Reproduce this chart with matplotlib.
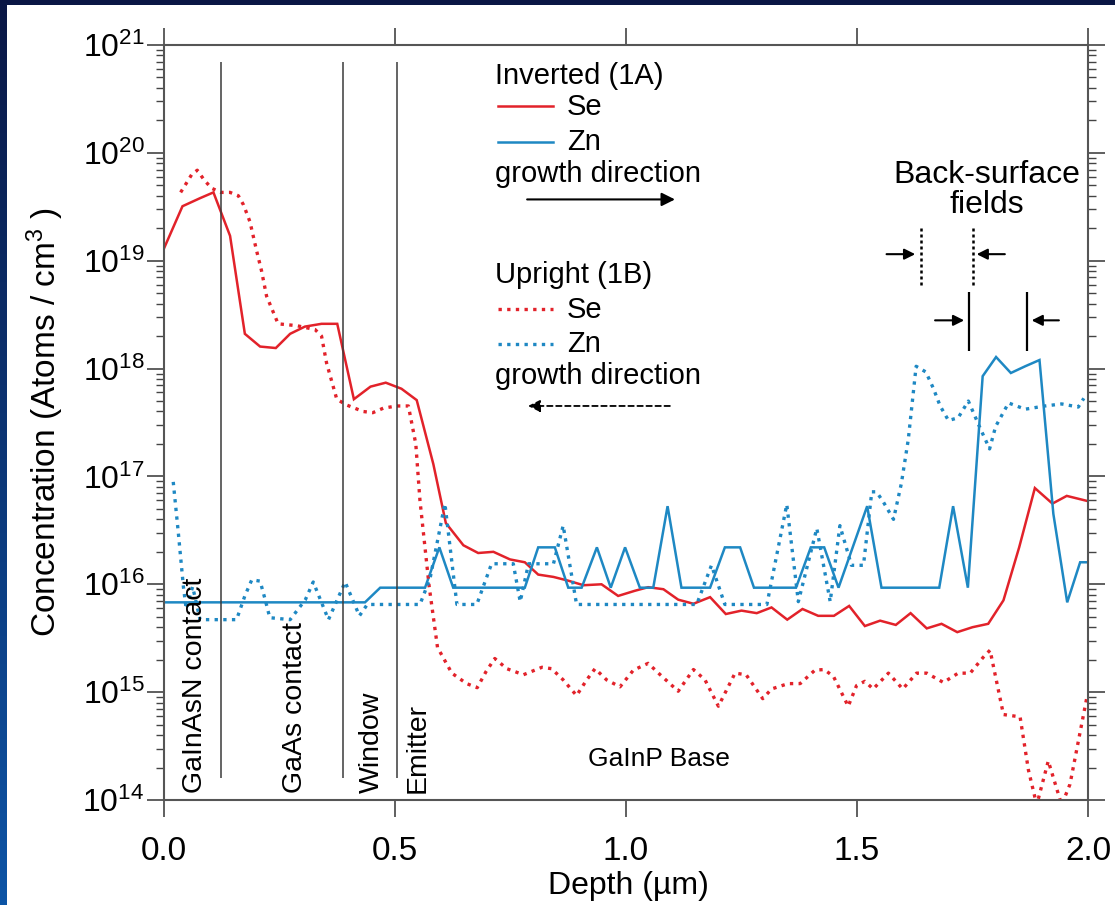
import numpy as np
import matplotlib
matplotlib.use("Agg")
import matplotlib.pyplot as plt
from matplotlib.patches import Rectangle
from matplotlib.ticker import NullFormatter, FixedLocator, LogFormatterMathtext

plt.rcParams['font.family'] = ['Liberation Sans', 'DejaVu Sans']
plt.rcParams['mathtext.fontset'] = 'custom'
plt.rcParams['mathtext.rm'] = 'Liberation Sans'
plt.rcParams['mathtext.it'] = 'Liberation Sans:italic'
plt.rcParams['mathtext.bf'] = 'Liberation Sans:bold'

# ---------------- data ----------------
inv_se_x = [0.0, 0.04, 0.078, 0.107, 0.143, 0.175, 0.208, 0.242, 0.273, 0.305, 0.341, 0.375,
            0.411, 0.447, 0.48, 0.514, 0.547, 0.583, 0.610, 0.648, 0.680, 0.713, 0.749, 0.781,
            0.810, 0.843, 0.875, 0.908, 0.947, 0.983, 1.019, 1.048, 1.081, 1.113, 1.146, 1.182,
            1.216, 1.250, 1.283, 1.315, 1.349, 1.382, 1.416, 1.450, 1.483, 1.517, 1.550, 1.584,
            1.616, 1.651, 1.683, 1.717, 1.750, 1.784, 1.817, 1.851, 1.885, 1.923, 1.954, 2.0]
inv_se_y = [1.3e19, 3.2e19, 3.8e19, 4.3e19, 1.7e19, 2.1e18, 1.6e18, 1.55e18, 2.1e18, 2.45e18, 2.6e18, 2.6e18,
            5.2e17, 6.8e17, 7.4e17, 6.5e17, 5.1e17, 1.3e17, 3.7e16, 2.3e16, 1.95e16, 2.0e16, 1.7e16, 1.6e16,
            1.23e16, 1.17e16, 1.08e16, 9.8e15, 1.0e16, 7.8e15, 8.7e15, 9.4e15, 9.0e15, 7.2e15, 6.6e15, 7.6e15,
            5.3e15, 5.7e15, 5.4e15, 6.1e15, 4.7e15, 5.9e15, 5.1e15, 5.1e15, 6.3e15, 4.1e15, 4.6e15, 4.2e15,
            5.4e15, 3.9e15, 4.3e15, 3.6e15, 4.0e15, 4.3e15, 7.1e15, 2.2e16, 7.8e16, 5.6e16, 6.6e16, 5.9e16]

inv_zn_x = [0.0, 0.435, 0.468, 0.565, 0.596, 0.626, 0.781, 0.810, 0.846, 0.875, 0.904, 0.937,
            0.967, 0.998, 1.030, 1.059, 1.090, 1.120, 1.182, 1.214, 1.247, 1.277, 1.368, 1.400,
            1.429, 1.460, 1.522, 1.553, 1.678, 1.708, 1.740, 1.772, 1.801, 1.833, 1.864, 1.895,
            1.925, 1.955, 1.983, 2.0]
inv_zn_y = [6.8e15, 6.8e15, 9.3e15, 9.3e15, 2.2e16, 9.3e15, 9.3e15, 2.2e16, 2.2e16, 9.3e15, 9.3e15, 2.2e16,
            9.3e15, 2.2e16, 9.3e15, 9.3e15, 5.3e16, 9.3e15, 9.3e15, 2.2e16, 2.2e16, 9.3e15, 9.3e15, 2.2e16,
            2.2e16, 9.3e15, 5.3e16, 9.3e15, 9.3e15, 5.3e16, 9.3e15, 8.5e17, 1.28e18, 9.1e17, 1.05e18, 1.2e18,
            4.5e16, 6.8e15, 1.6e16, 1.6e16]

up_se_x = [0.036, 0.048, 0.060, 0.072, 0.087, 0.103, 0.123, 0.143, 0.161, 0.172, 0.186, 0.200,
           0.211, 0.222, 0.247, 0.287, 0.327, 0.341, 0.352, 0.374, 0.395, 0.431, 0.452, 0.475,
           0.504, 0.529, 0.545, 0.554, 0.574, 0.592, 0.623, 0.655, 0.678, 0.697, 0.716, 0.742,
           0.778, 0.818, 0.839, 0.864, 0.893, 0.915, 0.933, 0.958, 0.987, 1.016, 1.048, 1.074,
           1.113, 1.146, 1.171, 1.200, 1.236, 1.260, 1.296, 1.315, 1.351, 1.377, 1.409, 1.429,
           1.449, 1.481, 1.499, 1.517, 1.535, 1.568, 1.599, 1.629, 1.651, 1.687, 1.719, 1.745,
           1.773, 1.788, 1.817, 1.853, 1.871, 1.889, 1.914, 1.943, 1.961, 1.997]
up_se_y = [4.3e19, 5.2e19, 6.3e19, 6.9e19, 5.6e19, 4.7e19, 4.3e19, 4.3e19, 4.0e19, 3.3e19, 2.3e19, 1.26e19,
           8.1e18, 4.7e18, 2.6e18, 2.5e18, 2.3e18, 2.0e18, 1.12e18, 5.2e17, 4.6e17, 4.0e17, 3.9e17, 4.3e17,
           4.5e17, 4.5e17, 2.0e17, 6.0e16, 9.5e15, 2.6e15, 1.5e15, 1.2e15, 1.1e15, 1.55e15, 2.05e15, 1.65e15,
           1.45e15, 1.7e15, 1.65e15, 1.3e15, 9.3e14, 1.3e15, 1.65e15, 1.3e15, 1.12e15, 1.6e15, 1.85e15, 1.45e15,
           1.02e15, 1.62e15, 1.3e15, 7.4e14, 1.5e15, 1.45e15, 8.7e14, 1.07e15, 1.2e15, 1.2e15, 1.6e15, 1.62e15,
           1.4e15, 7.4e14, 1.15e15, 1.26e15, 1.07e15, 1.5e15, 1.07e15, 1.5e15, 1.5e15, 1.23e15, 1.5e15, 1.5e15,
           2.1e15, 2.45e15, 6.2e14, 5.9e14, 1.9e14, 9.0e13, 2.3e14, 9.0e13, 1.4e14, 8.7e14]

up_zn_x = [0.020, 0.031, 0.042, 0.048, 0.062, 0.078, 0.157, 0.175, 0.190, 0.208, 0.219, 0.229,
           0.273, 0.306, 0.323, 0.356, 0.392, 0.423, 0.440, 0.554, 0.576, 0.608, 0.634, 0.677,
           0.709, 0.756, 0.771, 0.789, 0.843, 0.864, 0.893, 1.153, 1.185, 1.214, 1.305, 1.348,
           1.373, 1.413, 1.442, 1.463, 1.488, 1.514, 1.532, 1.542, 1.556, 1.579, 1.596, 1.611,
           1.628, 1.649, 1.665, 1.680, 1.698, 1.719, 1.741, 1.765, 1.787, 1.800, 1.828, 1.864,
           1.907, 1.943, 1.979, 1.991]
up_zn_y = [8.9e16, 3.0e16, 9.5e15, 5.9e15, 9.5e15, 4.7e15, 4.7e15, 7.8e15, 1.1e16, 1.07e16, 7.2e15, 4.9e15,
           4.7e15, 7.2e15, 1.05e16, 4.7e15, 1.05e16, 5.1e15, 6.5e15, 6.5e15, 1.14e16, 5.6e16, 6.5e15, 6.5e15,
           1.55e16, 1.55e16, 6.9e15, 1.55e16, 1.55e16, 3.5e16, 6.5e15, 6.5e15, 1.5e16, 6.5e15, 6.5e15, 5.5e16,
           6.9e15, 3.3e16, 6.9e15, 3.5e16, 1.5e16, 1.5e16, 7.2e16, 7.2e16, 5.9e16, 4.0e16, 8.6e16, 2.2e17,
           1.05e18, 9.3e17, 6.6e17, 4.5e17, 3.3e17, 3.5e17, 5.0e17, 2.9e17, 1.8e17, 2.9e17, 4.8e17, 4.2e17,
           4.5e17, 4.7e17, 4.4e17, 5.3e17]

layer_bounds = [0.123, 0.388, 0.504]
layer_labels = ["GaInAsN contact", "GaAs contact", "Window", "Emitter"]
layer_label_x = [0.067, 0.2835, 0.450, 0.548]

xticks = [0.0, 0.5, 1.0, 1.5, 2.0]
xticklabels = ["0.0", "0.5", "1.0", "1.5", "2.0"]
ytick_exponents = [14, 15, 16, 17, 18, 19, 20, 21]

RED = '#e2222a'
BLUE = '#1e88c3'
W, H = 1115, 905

fig = plt.figure(figsize=(W / 100, H / 100), dpi=100)

# background: gradient frame + white panel
bg = fig.add_axes([0, 0, 1, 1], zorder=-10)
grad = np.linspace(0, 1, 256)[:, None]
top = np.array([0.04, 0.09, 0.27])
bot = np.array([0.05, 0.33, 0.65])
img = (top[None, None, :] * (1 - grad[:, :, None]) + bot[None, None, :] * grad[:, :, None])
bg.imshow(img, extent=[0, 1, 0, 1], aspect='auto', origin='upper')
bg.add_patch(Rectangle((7 / W, 0), 1, 1 - 5 / H, transform=bg.transAxes,
                       facecolor='white', edgecolor='none'))
bg.set_xlim(0, 1)
bg.set_ylim(0, 1)
bg.axis('off')

ax = fig.add_axes([164 / W, 1 - 800 / H, (1088 - 164) / W, (800 - 45) / H])
ax.set_facecolor('white')
ax.set_yscale('log')
ax.set_xlim(0, 2.0)
ax.set_ylim(1e14, 1e21)

ax.plot(inv_se_x, inv_se_y, color=RED, lw=1.8, solid_joinstyle='miter')
ax.plot(inv_zn_x, inv_zn_y, color=BLUE, lw=1.8, solid_joinstyle='miter')
ax.plot(up_se_x, up_se_y, color=RED, lw=2.4, ls=(0, (1, 1.6)))
ax.plot(up_zn_x, up_zn_y, color=BLUE, lw=2.4, ls=(0, (1, 1.6)))

# layer boundaries
ax.vlines(layer_bounds, 1.6e14, 7.0e20, color='#3a3a3a', lw=1.1)
for lx, lab in zip(layer_label_x, layer_labels):
    ax.text(lx, 1.16e14, lab, rotation=90, ha='center', va='bottom', fontsize=20.5)
ax.text(1.071, 2.4e14, "GaInP Base", ha='center', va='center', fontsize=19)

# legend block
LFS = 21
ax.text(0.716, 5.2e20, "Inverted (1A)", ha='left', va='center', fontsize=LFS)
ax.plot([0.723, 0.842], [2.7e20, 2.7e20], color=RED, lw=1.8)
ax.text(0.872, 2.65e20, "Se", ha='left', va='center', fontsize=LFS)
ax.plot([0.723, 0.842], [1.25e20, 1.25e20], color=BLUE, lw=1.8)
ax.text(0.872, 1.25e20, "Zn", ha='left', va='center', fontsize=LFS)
ax.text(0.716, 6.3e19, "growth direction", ha='left', va='center', fontsize=LFS)
ax.annotate('', xy=(1.106, 3.7e19), xytext=(0.786, 3.7e19),
            arrowprops=dict(arrowstyle='-|>', color='k', lw=1.5, mutation_scale=20,
                            shrinkA=0, shrinkB=0))
ax.text(0.716, 7.4e18, "Upright (1B)", ha='left', va='center', fontsize=LFS)
ax.plot([0.723, 0.842], [3.6e18, 3.6e18], color=RED, lw=2.4, ls=(0, (1, 1.6)))
ax.text(0.872, 3.5e18, "Se", ha='left', va='center', fontsize=LFS)
ax.plot([0.723, 0.842], [1.7e18, 1.7e18], color=BLUE, lw=2.4, ls=(0, (1, 1.6)))
ax.text(0.872, 1.68e18, "Zn", ha='left', va='center', fontsize=LFS)
ax.text(0.716, 8.5e17, "growth direction", ha='left', va='center', fontsize=LFS)
ax.annotate('', xy=(0.788, 4.5e17), xytext=(1.095, 4.5e17),
            arrowprops=dict(arrowstyle='-|>', color='k', lw=1.3, ls=(0, (3, 2)),
                            mutation_scale=18, shrinkA=0, shrinkB=0))

# back-surface field annotation
ax.text(1.781, 6.2e19, "Back-surface", ha='center', va='center', fontsize=23)
ax.text(1.781, 3.3e19, "fields", ha='center', va='center', fontsize=23)
ax.vlines([1.638, 1.752], 6.0e18, 2.1e19, color='k', lw=1.8, linestyles=[(0, (1.2, 1.2))])
ax.vlines([1.742, 1.867], 1.44e18, 5.1e18, color='k', lw=1.6)
arr = dict(arrowstyle='-|>', color='k', lw=1.5, mutation_scale=16, shrinkA=0, shrinkB=0)
ax.annotate('', xy=(1.626, 1.15e19), xytext=(1.564, 1.15e19), arrowprops=arr)
ax.annotate('', xy=(1.759, 1.15e19), xytext=(1.820, 1.15e19), arrowprops=arr)
ax.annotate('', xy=(1.732, 2.8e18), xytext=(1.669, 2.8e18), arrowprops=arr)
ax.annotate('', xy=(1.878, 2.8e18), xytext=(1.937, 2.8e18), arrowprops=arr)

# axes styling
for sp in ax.spines.values():
    sp.set_color('#555555')
    sp.set_linewidth(1.5)
ax.xaxis.set_major_locator(FixedLocator(xticks))
ax.set_xticklabels(xticklabels)
ax.xaxis.set_minor_locator(FixedLocator([]))
major_y = [10.0 ** e for e in ytick_exponents]
minor_y = [m * 10.0 ** e for e in ytick_exponents[:-1] for m in range(2, 10)]
ax.yaxis.set_major_locator(FixedLocator(major_y))
ax.yaxis.set_major_formatter(LogFormatterMathtext())
ax.yaxis.set_minor_locator(FixedLocator(minor_y))
ax.yaxis.set_minor_formatter(NullFormatter())
ax.tick_params(which='both', direction='out', top=True, right=True,
               labeltop=False, labelright=False, color='#444444')
ax.tick_params(which='major', length=12, width=1.2)
ax.tick_params(which='minor', length=5.5, width=1.0)
ax.tick_params(axis='x', which='major', labelsize=24, pad=14)
ax.tick_params(axis='y', which='major', labelsize=23, pad=2)

ax.set_xlabel("Depth (\u00b5m)", fontsize=23)
ax.xaxis.set_label_coords((628 - 164) / 924, (800 - 871) / 755)
ax.xaxis.label.set_va('top')
ax.set_ylabel("Concentration (Atoms / cm$^{3}$ )", fontsize=24,
              rotation=90, rotation_mode='default', ha='center', va='center')
ax.yaxis.set_label_coords((45 - 164) / 924, (800 - 422) / 755)

fig.savefig("out.png", dpi=100)
